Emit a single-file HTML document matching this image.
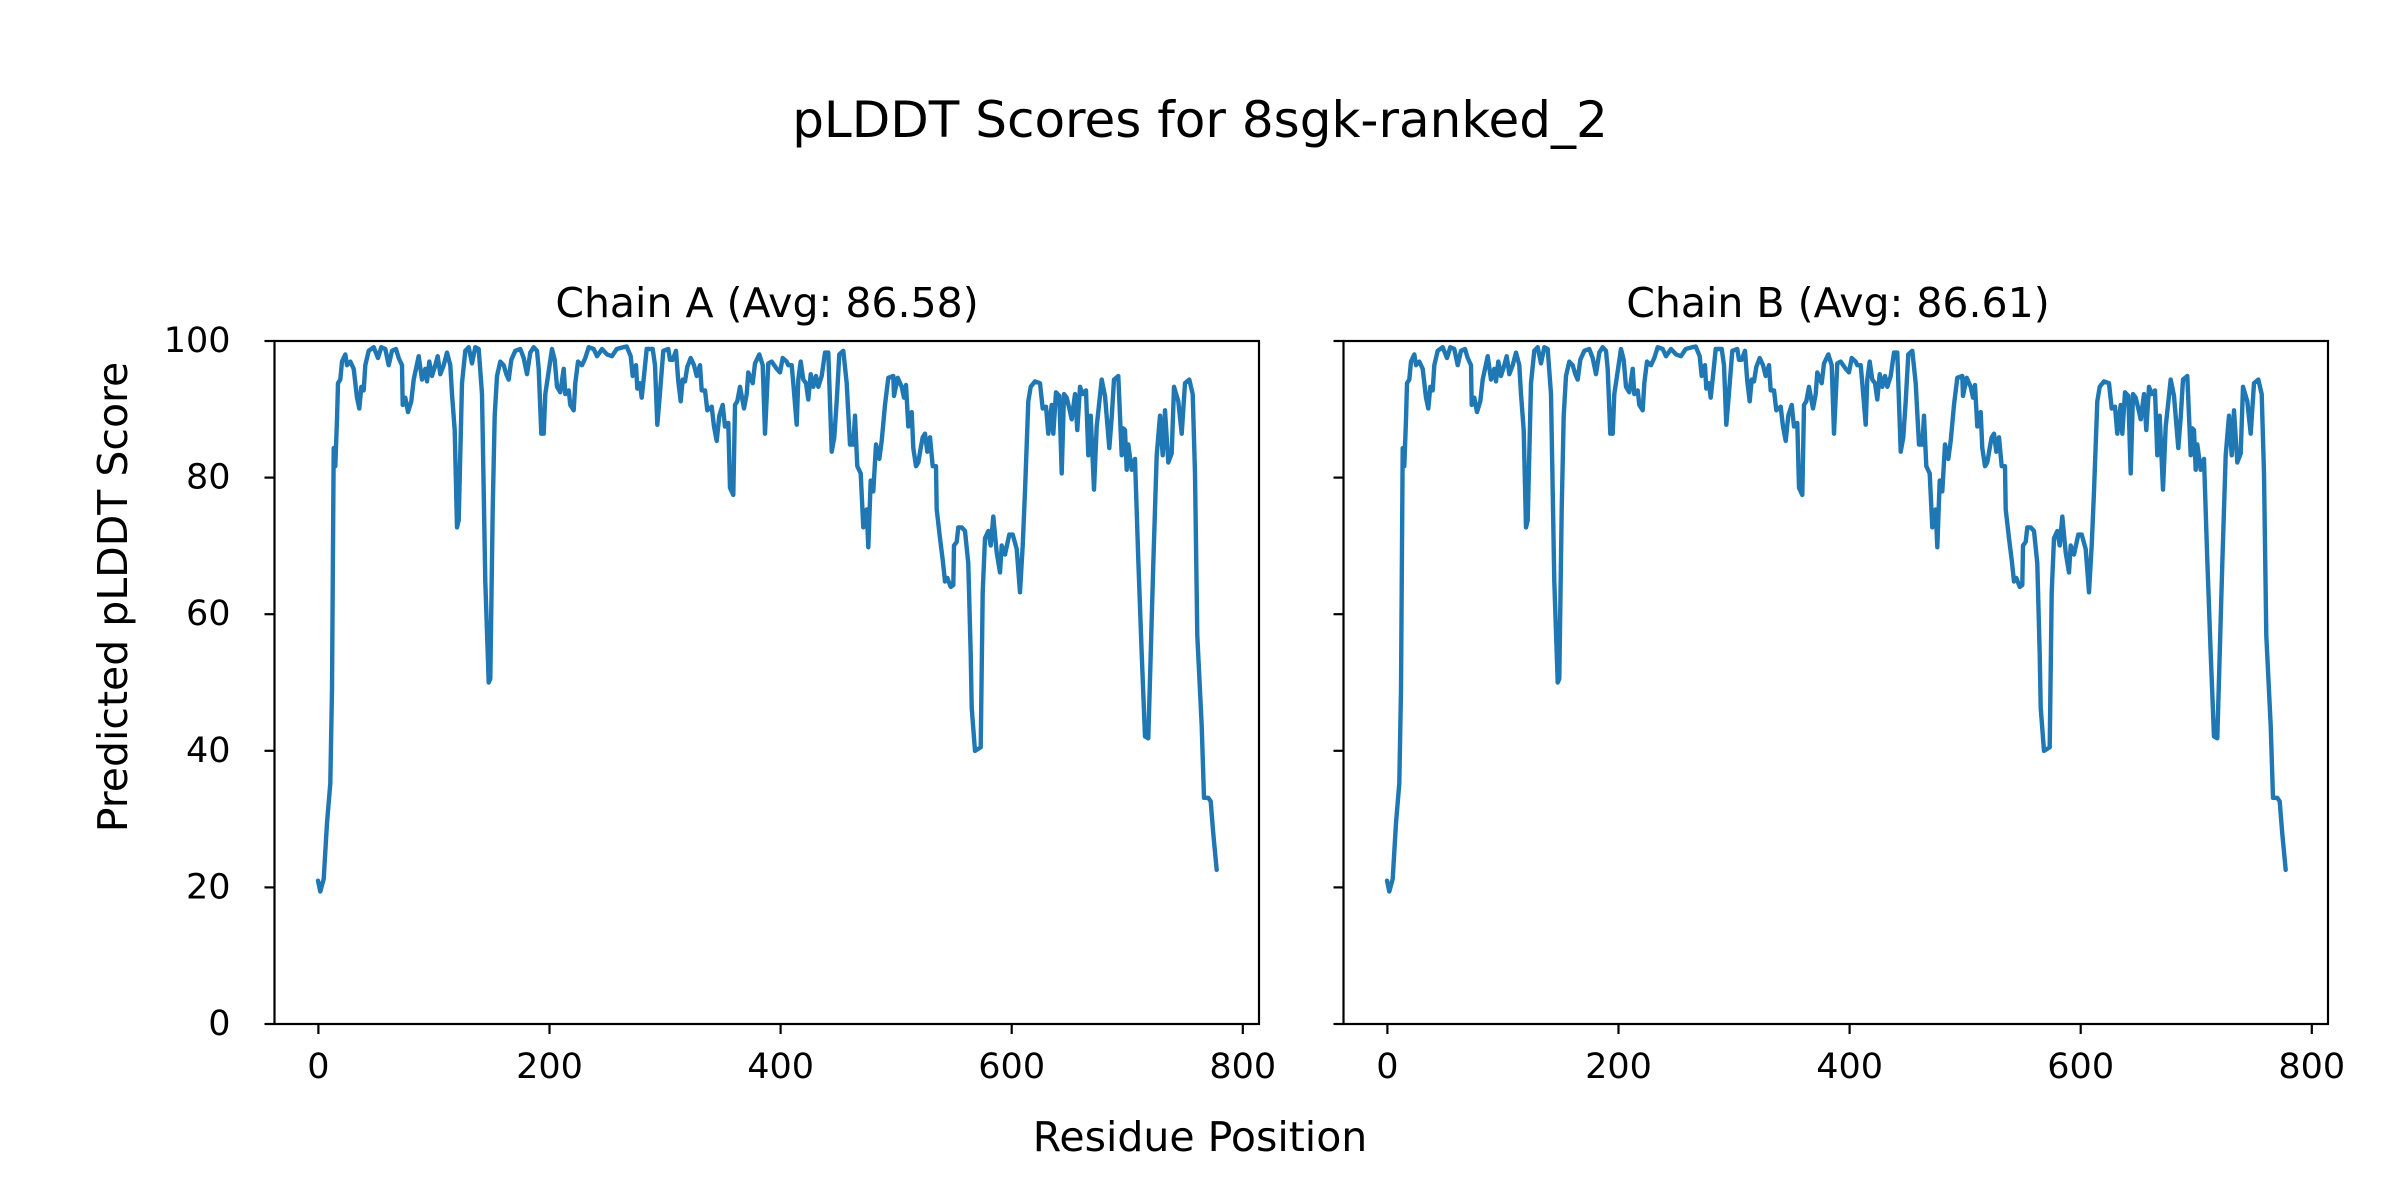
<!DOCTYPE html>
<html><head><meta charset="utf-8"><style>
html,body{margin:0;padding:0;background:#fff}
svg{display:block}
text{font-family:"DejaVu Sans","Liberation Sans",sans-serif;fill:#000}
</style></head><body>
<svg id="s" width="2400" height="1200" viewBox="0 0 2400 1200" xmlns="http://www.w3.org/2000/svg">
<rect width="2400" height="1200" fill="#fff"/>
<text x="1200" y="120" font-size="50" text-anchor="middle" dominant-baseline="central">pLDDT Scores for 8sgk-ranked_2</text>
<text x="767" y="303" font-size="41" text-anchor="middle" dominant-baseline="central">Chain A (Avg: 86.58)</text>
<text x="1838" y="303" font-size="41" text-anchor="middle" dominant-baseline="central">Chain B (Avg: 86.61)</text>
<text x="1200" y="1137" font-size="41" text-anchor="middle" dominant-baseline="central">Residue Position</text>
<text x="113" y="597" font-size="41" text-anchor="middle" dominant-baseline="central" transform="rotate(-90 113 597)">Predicted pLDDT Score</text>
<g id="axes"></g>
<polyline id="pa" fill="none" stroke="#1f77b4" stroke-width="4.4" stroke-linejoin="round" stroke-linecap="round"/>
<polyline id="pb" fill="none" stroke="#1f77b4" stroke-width="4.4" stroke-linejoin="round" stroke-linecap="round"/>
</svg>
<script>
var z1=[[138,1530],[145,1560],[155,1525],[160,1450],[165,1370],[175,1260],[180,1000],[183,600],[185,330],[190,380],[195,250],[198,150],[205,140],[210,90],[220,70],[225,100],[235,90],[245,110],[255,190],[262,220],[268,160],[275,170],[280,100],[290,60],[305,50],[318,80],[328,50],[340,55],[350,100],[360,60],[372,55],[380,80],[390,100],[392,210],[400,190],[408,230],[418,200],[425,140],[440,75],[450,140],[460,110],[465,145],[472,90],[480,130],[490,100],[497,75],[505,125],[515,100],[525,65],[535,100],[540,180],[548,280],[555,550],[560,530],[570,150],[580,60],[590,50],[600,95],[610,50],[620,55],[630,180],[640,700],[650,980],[655,970],[662,500],[668,240],[675,130],[685,90],[695,100],[703,125],[710,140],[718,85],[730,60],[745,55],[755,80],[765,125],[775,65],[785,50],[795,60],[800,110],[808,290],[815,290],[820,180],[828,130],[840,55],[848,85],[855,160],[865,175],[875,110],[880,180],[890,170],[895,210],[905,225],[910,150],[918,90],[930,100],[940,80],[950,50],[965,55],[975,75],[990,55],[1005,70]];
var z2=[[36,75],[50,55],[70,50],[80,48],[92,75],[98,130],[108,100],[112,165],[120,150],[125,190],[132,130],[140,55],[158,55],[165,100],[172,265],[178,200],[190,60],[205,55],[210,85],[218,85],[228,60],[235,145],[242,200],[248,140],[255,145],[262,105],[272,80],[282,100],[290,130],[300,100],[305,170],[315,170],[322,225],[335,215],[342,270],[350,310],[358,240],[368,210],[375,270],[385,260],[390,440],[400,460],[405,210],[412,200],[420,160],[432,220],[440,180],[445,120],[458,150],[465,95],[478,70],[488,100],[495,290],[505,95],[515,90],[530,110],[540,120],[548,80],[560,90],[565,100],[575,100],[580,150],[590,265],[595,140],[602,90],[610,140],[618,150],[625,195],[632,125],[640,160],[648,130],[655,160],[665,130],[675,65],[685,65],[695,340],[703,300],[710,200],[718,70],[730,60],[740,150],[750,320],[760,320],[765,240],[772,380],[782,400],[790,550],[800,500],[805,605],[812,420],[820,450],[828,320],[838,360],[845,310],[855,210],[865,135],[880,130],[882,185],[893,135],[905,160],[912,190],[918,155],[925,270],[935,230],[940,330],[948,380],[955,370],[962,330],[968,300],[975,290],[982,340],[990,300],[998,380],[1008,380],[1010,500]];
var z3=[[60,580],[68,640],[75,700],[82,690],[92,715],[100,710],[102,600],[110,590],[115,550],[125,550],[135,560],[145,650],[152,900],[155,1050],[165,1170],[182,1160],[188,730],[195,580],[205,560],[212,600],[220,520],[230,620],[240,675],[245,600],[255,625],[268,570],[278,570],[290,610],[300,730],[308,600],[315,450],[325,200],[332,160],[345,145],[360,150],[368,220],[378,215],[385,290],[395,210],[400,290],[408,175],[418,185],[425,400],[432,180],[440,190],[448,220],[455,250],[465,180],[472,280],[480,160],[488,180],[498,170],[505,350],[512,240],[522,445],[530,270],[545,140],[555,185],[568,330],[575,245],[582,140],[595,130],[605,350],[610,275],[615,280],[620,390],[625,320],[635,390],[645,360],[655,640],[665,900],[675,1130],[685,1135],[700,650],[710,350],[720,240],[728,350],[735,225],[745,370],[755,345],[762,160],[775,200],[785,290],[795,150],[808,140],[818,180],[825,400],[832,850],[845,1100],[852,1300],[865,1300],[872,1310],[880,1400],[890,1500]];
var pts=[];
function add(a,x0){a.forEach(function(p){pts.push([x0+p[0]/3,340.7+(p[1]-32)*0.3605]);});}
add(z1,272);add(z2,600);add(z3,920);
function str(off){return pts.map(function(p){return (p[0]+off).toFixed(1)+','+p[1].toFixed(1);}).join(' ');}
document.getElementById('pa').setAttribute('points',str(0));
document.getElementById('pb').setAttribute('points',str(1069));
var g=document.getElementById('axes'),h='';
var yTop=341,yBot=1024;
[[274.5,1259],[1343.5,2328]].forEach(function(ax,i){
 h+='<rect x="'+ax[0]+'" y="'+yTop+'" width="'+(ax[1]-ax[0])+'" height="'+(yBot-yTop)+'" fill="none" stroke="#000" stroke-width="2.2"/>';
 for(var v=0;v<=100;v+=20){var y=yBot-(yBot-yTop)*v/100;
  h+='<line x1="'+ax[0]+'" x2="'+(ax[0]-10)+'" y1="'+y+'" y2="'+y+'" stroke="#000" stroke-width="2.2"/>';
  if(i==0)h+='<text x="'+(ax[0]-44)+'" y="'+y+'" font-size="35" text-anchor="end" dominant-baseline="central">'+v+'</text>';}
 var off=i?1069:0;
 for(var t=0;t<=800;t+=200){var x=318.4+off+t*(1242.8-318.4)/800;
  h+='<line x1="'+x+'" x2="'+x+'" y1="'+yBot+'" y2="'+(yBot+10)+'" stroke="#000" stroke-width="2.2"/>';
  h+='<text x="'+x+'" y="'+(yBot+43)+'" font-size="35" text-anchor="middle" dominant-baseline="central">'+t+'</text>';}
});
g.innerHTML=h;
</script>
</body></html>
